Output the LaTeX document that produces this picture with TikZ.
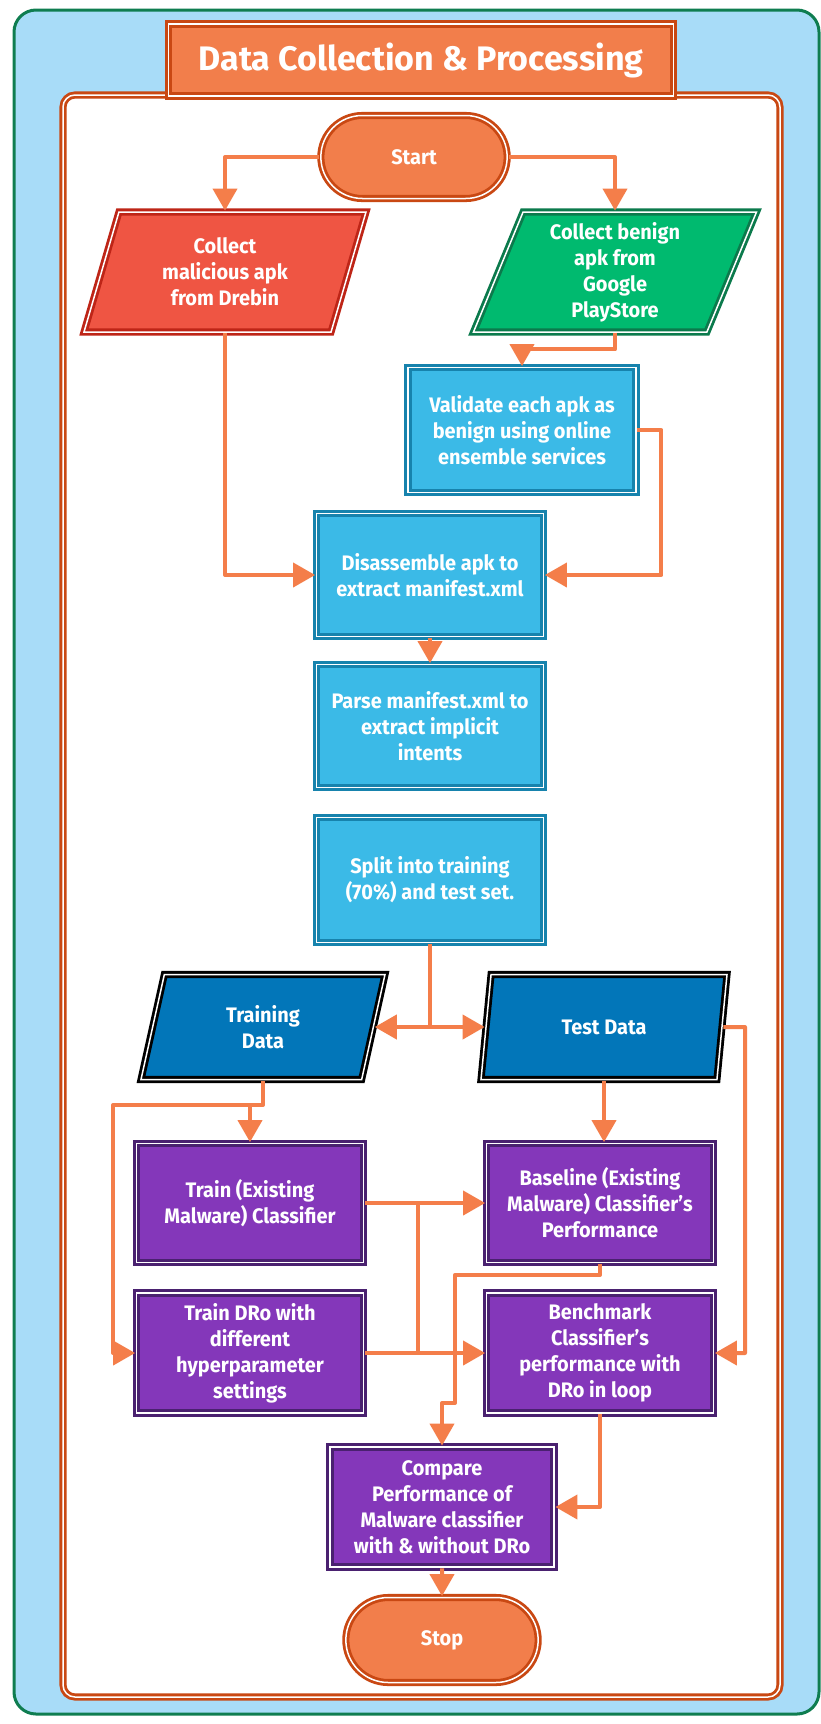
\documentclass[tikz,border=0pt]{standalone}
\usepackage{fontspec}
\setmainfont{Fira Sans}[FakeStretch=0.95]
\newfontfamily\titlefont{Fira Sans}[FakeStretch=1.0]
\usetikzlibrary{shapes.geometric,shapes.misc,arrows.meta,positioning}

\definecolor{bgblue}{HTML}{A8DCF8}
\definecolor{framegreen}{HTML}{0F7D50}
\definecolor{frameorange}{HTML}{C94813}
\definecolor{termfill}{HTML}{F27E4B}
\definecolor{redfill}{HTML}{EF5543}
\definecolor{redline}{HTML}{BE2517}
\definecolor{greenfill}{HTML}{00BA6F}
\definecolor{greenline}{HTML}{0B7A4C}
\definecolor{procfill}{HTML}{3BBAE7}
\definecolor{procline}{HTML}{1783AD}
\definecolor{datafill}{HTML}{0276B9}
\definecolor{purplefill}{HTML}{8437BA}
\definecolor{purpleline}{HTML}{4A2170}
\definecolor{arrowc}{HTML}{F47E4A}

\tikzset{
  sketch/.style={draw=#1, line width=2.8pt, double=white, double distance=1.5pt},
  txt/.style={text=white, font=\fontsize{21}{26}\selectfont\bfseries, align=center},
  term/.style={rounded rectangle, sketch=frameorange, fill=termfill, txt},
  para/.style={trapezium, trapezium left angle=65, trapezium right angle=115,
    trapezium stretches body, txt},
  proc/.style={rectangle, sketch=procline, fill=procfill, txt,
    minimum width=227pt, minimum height=123pt},
  task/.style={rectangle, sketch=purpleline, fill=purplefill, txt,
    minimum width=227pt, minimum height=119pt},
  flow/.style={draw=arrowc, line width=4pt, line join=round,
    -{Triangle[length=22pt,width=24pt]}},
  link/.style={draw=arrowc, line width=4pt, line join=round}
}

\begin{document}
\begin{tikzpicture}[x=1pt,y=-1pt]
\useasboundingbox (0,0) rectangle (821,1724);

% frames
\draw[fill=bgblue, draw=framegreen, line width=3pt, rounded corners=22pt] (14,10) rectangle (819,1714);
\draw[fill=white, sketch=frameorange, rounded corners=12pt] (63,95) rectangle (780,1697);

\node[rectangle, sketch=frameorange, fill=termfill, text=white,
  font=\titlefont\fontsize{34}{40}\selectfont\bfseries, minimum width=505pt, minimum height=72pt]
  (title) at (421,60) {Data Collection \& Processing};

% nodes
\node[term, minimum width=193pt, minimum height=83pt] (start) at (414,157) {Start};
\node[para, sketch=redline, fill=redfill, minimum width=282pt, minimum height=120pt]
  (malware) at (225,272) {Collect\\malicious apk\\from Drebin};
\node[para, sketch=greenline, fill=greenfill, minimum width=283pt, minimum height=120pt]
  (benign) at (615,272) {Collect benign\\apk from\\Google\\PlayStore};
\node[proc, minimum width=228pt, minimum height=125pt] (validate) at (522,430)
  {Validate each apk as\\benign using online\\ensemble services};
\node[proc] (disasm) at (430,575) {Disassemble apk to\\extract manifest.xml};
\node[proc] (parse) at (430,726) {Parse manifest.xml to\\extract implicit\\intents};
\node[proc, minimum height=125pt] (split) at (430,880) {Split into training\\(70\%) and test set.};
\node[para, sketch=black, fill=datafill, minimum width=244pt, minimum height=105pt]
  (train) at (263,1027) {Training\\Data};
\node[para, sketch=black, fill=datafill, minimum width=246pt, minimum height=105pt]
  (test) at (604,1027) {Test Data};
\node[task] (trainex) at (250,1203) {Train (Existing\\Malware) Classifier};
\node[task] (baseline) at (600,1203) {Baseline (Existing\\Malware) Classifier’s\\Performance};
\node[task, minimum height=120pt] (traindro) at (250,1353)
  {Train DRo with\\different\\hyperparameter\\settings};
\node[task, minimum height=120pt] (bench) at (600,1353)
  {Benchmark\\Classifier’s\\performance with\\DRo in loop};
\node[task, minimum width=224pt, minimum height=120pt] (compare) at (442,1507)
  {Compare\\Performance of\\Malware classifier\\with \& without DRo};
\node[term, minimum width=199pt, minimum height=85pt] (stop) at (442,1640) {Stop};

% helper points
\coordinate (trleft) at (113,1105);
\coordinate (teright) at (745,1027);
\coordinate (midx) at (418,0);
\coordinate (bjog) at (455,1403);

% connectors
\draw[flow] (start.west) -| (malware.north);
\draw[flow] (start.east) -| (benign.north);
\draw[flow] (benign.south) -- ++(0,16) -| (validate.north);
\draw[flow] (malware.south) |- (disasm.west);
\draw[flow] (validate.east) -- ++(24,0) |- (disasm.east);
\draw[flow] (disasm) -- (parse);
\draw[flow] (split.south) |- (train.east);
\draw[flow] (split.south) |- (test.west);
\draw[flow] (train.south) |- (trleft) |- (traindro.west);
\draw[flow] (trainex.north |- trleft) -- (trainex.north);
\draw[flow] (test.south) -- (test.south |- baseline.north);
\draw[flow] (test.east) -- (teright) |- (bench.east);
\draw[flow] (trainex.east) -- (baseline.west);
\draw[flow] (traindro.east) -- (bench.west);
\draw[link] (trainex.east -| midx) -- (traindro.east -| midx);
\draw[flow] (baseline.south) -- ++(0,11) -| (bjog) -| (compare.north);
\draw[flow] (bench.south) |- (compare.east);
\draw[flow] (compare) -- (stop);

\end{tikzpicture}
\end{document}
